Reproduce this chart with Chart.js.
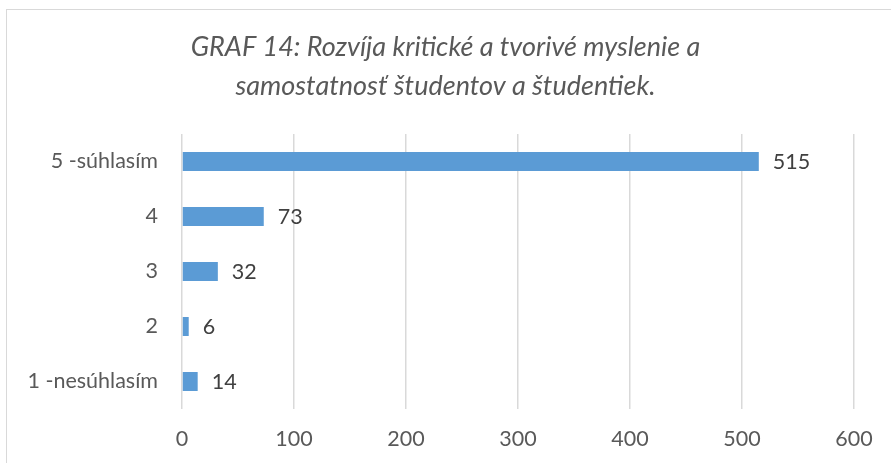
<!DOCTYPE html>
<html>
<head>
<meta charset="utf-8">
<script src="https://cdn.jsdelivr.net/npm/chart.js@4/dist/chart.umd.min.js"></script>
<style>
  html, body { margin: 0; padding: 0; background: #fff; }
  #wrap { width: 891px; height: 463px; position: relative; }
</style>
</head>
<body>
<div id="wrap"><canvas id="chart" width="891" height="463"></canvas></div>
<script>
const titleLines = ["GRAF 14: Rozvíja kritické a tvorivé myslenie a", "samostatnosť študentov a študentiek."];
const categories = ["5 -súhlasím", "4", "3", "2", "1 -nesúhlasím"];
const values = [515, 73, 32, 6, 14];
const axisMin = 0;
const axisMax = 600;
const axisStep = 100;

const FONT = "Lato, 'Open Sans', sans-serif";
const GREY = "#595959";
const LABEL_SIZE = 21.5;

// outer frame like the excel chart border
const framePlugin = {
  id: "frame",
  beforeDraw(chart) {
    const ctx = chart.ctx;
    ctx.save();
    ctx.fillStyle = "#fff";
    ctx.fillRect(0, 0, chart.width, chart.height);
    ctx.strokeStyle = "#d9d9d9";
    ctx.lineWidth = 1;
    ctx.strokeRect(6.5, 9.5, 1000, 1000);
    ctx.restore();
  }
};

// value labels at the end of each bar
const valueLabels = {
  id: "valueLabels",
  afterDatasetsDraw(chart) {
    const ctx = chart.ctx;
    const meta = chart.getDatasetMeta(0);
    ctx.save();
    ctx.font = LABEL_SIZE + "px " + FONT;
    ctx.fillStyle = "#404040";
    ctx.textBaseline = "middle";
    ctx.textAlign = "left";
    meta.data.forEach((bar, i) => {
      ctx.fillText(String(values[i]), bar.x + 14, bar.y + 1);
    });
    ctx.restore();
  }
};

new Chart(document.getElementById("chart"), {
  type: "bar",
  data: {
    labels: categories,
    datasets: [{
      data: values,
      backgroundColor: "#5b9bd5",
      borderWidth: 0,
      categoryPercentage: 1,
      barPercentage: 0.345
    }]
  },
  options: {
    indexAxis: "y",
    responsive: false,
    animation: false,
    layout: { padding: 0 },
    scales: {
      x: {
        min: axisMin,
        max: axisMax,
        ticks: { stepSize: axisStep, color: GREY, font: { family: FONT, size: LABEL_SIZE }, padding: 17 },
        grid: { color: "#d9d9d9", lineWidth: 1.5, drawTicks: false },
        border: { display: false },
        afterFit(scale) { scale.height = 54; }
      },
      y: {
        ticks: { color: GREY, font: { family: FONT, size: LABEL_SIZE }, padding: 24 },
        grid: { display: false, drawTicks: false },
        border: { display: false },
        afterFit(scale) { scale.width = 182; }
      },
      // empty right-hand gutter so the title stays centred on the whole canvas
      yRight: {
        position: "right",
        ticks: { display: false },
        grid: { display: false, drawTicks: false },
        border: { display: false },
        afterFit(scale) { scale.width = 37; }
      }
    },
    plugins: {
      legend: { display: false },
      tooltip: { enabled: false },
      title: {
        display: true,
        text: titleLines,
        color: GREY,
        font: { family: FONT, size: 27, style: "italic", weight: "normal", lineHeight: "39px" },
        padding: { top: 28, bottom: 28 }
      }
    }
  },
  plugins: [framePlugin, valueLabels]
});
</script>
</body>
</html>
